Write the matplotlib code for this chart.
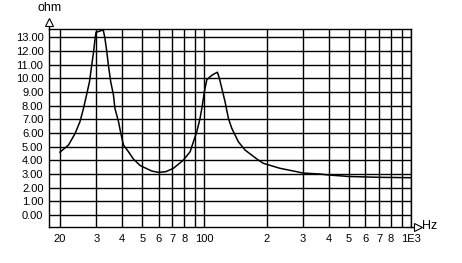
import matplotlib
matplotlib.use("Agg")
import matplotlib.pyplot as plt
from matplotlib.ticker import FixedLocator, NullLocator
from matplotlib.lines import Line2D

plt.rcParams['font.family'] = ['Liberation Sans', 'DejaVu Sans']

freq = [20, 22.0, 23.7, 25.0, 26.0, 26.9, 27.8, 28.5, 29.1, 29.6, 29.9, 31.2, 32.4,
        33.0, 33.7, 34.3, 35.2, 36.3, 36.9, 38.4, 39.4, 40.6, 42.9, 45.3, 48.9,
        55.6, 60, 65, 70.8, 79.2, 85.3, 88.5, 91.9, 95.3, 97.8, 100, 102.7,
        106.6, 110.6, 115.6, 118.2, 121.4, 125.9, 130.7, 135.7, 146, 157.4,
        182.4, 193, 232, 280, 300, 362, 400, 500, 700, 1000]
impedance = [4.6, 5.12, 5.98, 6.83, 7.8, 8.78, 9.75, 10.97, 11.95, 12.93, 13.36, 13.45, 13.53,
             12.93, 11.95, 10.97, 9.75, 8.78, 7.8, 6.83, 5.98, 5.12, 4.63, 4.1, 3.62,
             3.22, 3.12, 3.17, 3.42, 4.02, 4.63, 5.36, 6.09, 7.07, 8.05, 9.02, 9.88,
             10.12, 10.29, 10.44, 10.0, 9.27, 8.29, 7.07, 6.34, 5.36, 4.75,
             4.02, 3.78, 3.42, 3.17, 3.07, 3.0, 2.93, 2.82, 2.76, 2.73]

x_ticks = [20, 30, 40, 50, 60, 70, 80, 90, 100, 200, 300, 400, 500, 600, 700, 800, 900, 1000]
x_labels = ["20", "3", "4", "5", "6", "7", "8", "", "100", "2", "3", "4", "5", "6", "7", "8", "", "1E3"]
y_ticks = list(range(0, 14))
y_labels = [f"{v:.2f}" for v in y_ticks]

W, H = 462, 263
fig = plt.figure(figsize=(W / 100, H / 100), dpi=100)
L, R, T, B = 49, 411, 29, 226.7
ax = fig.add_axes([L / W, 1 - B / H, (R - L) / W, (B - T) / H])

ax.set_xscale('log')
ax.set_xlim(17.7, 1000)
ax.set_ylim(-0.85, 13.6)

ax.xaxis.set_major_locator(FixedLocator(x_ticks))
ax.xaxis.set_minor_locator(NullLocator())
ax.set_xticklabels(x_labels)
ax.set_yticks(y_ticks)
ax.set_yticklabels(y_labels)
ax.tick_params(length=0, labelsize=8, colors='black')
ax.tick_params(axis='x', pad=5)
ax.tick_params(axis='y', pad=4)

ax.grid(True, color='black', linewidth=1.0)
ax.set_axisbelow(True)
for s in ax.spines.values():
    s.set_color('black')
    s.set_linewidth(1.0)

ax.plot(freq, impedance, color='black', linewidth=1.1)

def fx(px):
    return px / W

def fy(py):
    return 1 - py / H

# axis extensions and arrow heads (figure pixel coordinates)
fig.add_artist(Line2D([fx(L), fx(L)], [fy(T), fy(25)], color='black', lw=1.0))
fig.add_artist(Line2D([fx(R), fx(415)], [fy(B), fy(B)], color='black', lw=1.0))
fig.add_artist(Line2D([fx(L)], [fy(21.5)], marker='^', markersize=5.5,
                      markerfacecolor='white', markeredgecolor='black',
                      markeredgewidth=0.8, linestyle='none'))
fig.add_artist(Line2D([fx(418.3)], [fy(B)], marker='>', markersize=5.5,
                      markerfacecolor='white', markeredgecolor='black',
                      markeredgewidth=0.8, linestyle='none'))
fig.text(fx(50), fy(8), 'ohm', ha='center', va='center', fontsize=9)
fig.text(fx(422), fy(226), 'Hz', ha='left', va='center', fontsize=9)

fig.savefig('out.png', dpi=100)
